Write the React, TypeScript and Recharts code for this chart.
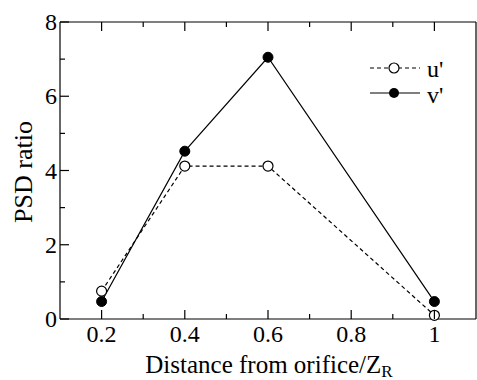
import React from 'react';
import { LineChart, Line, XAxis, YAxis, Legend } from 'recharts';

const distances = [0.2, 0.4, 0.6, 1];
const uPrime = [0.75, 4.12, 4.12, 0.1];
const vPrime = [0.47, 4.52, 7.05, 0.47];

const xMajorTicks = [0.2, 0.4, 0.6, 0.8, 1];
const xMinorTicks = [0.3, 0.5, 0.7, 0.9];
const yMajorTicks = [0, 2, 4, 6, 8];
const yMinorTicks = [1, 3, 5, 7];

const xTicks = [...xMajorTicks, ...xMinorTicks].sort((a, b) => a - b);
const yTicks = [...yMajorTicks, ...yMinorTicks].sort((a, b) => a - b);

const data = distances.map((d, i) => ({ x: d, u: uPrime[i], v: vPrime[i] }));

const FONT = "'Liberation Serif', 'Times New Roman', serif";
const TICK = { fontFamily: FONT, fontSize: 24 };
const LAB = { fontFamily: FONT, fontSize: 25 };
const MAJ = 9;
const MIN = 5;

const isMajorX = (v: number) => xMajorTicks.some((t) => Math.abs(t - v) < 1e-9);
const isMajorY = (v: number) => yMajorTicks.some((t) => Math.abs(t - v) < 1e-9);

const BottomTick = (props: any) => {
  const { x, y, payload } = props;
  const major = isMajorX(payload.value);
  return (
    <g>
      <line x1={x} x2={x} y1={y} y2={y - (major ? MAJ : MIN)} stroke="#000" strokeWidth={1.2} />
      {major && (
        <text x={x} y={y + 23} textAnchor="middle" style={TICK} fill="#000">
          {String(payload.value)}
        </text>
      )}
    </g>
  );
};

const TopTick = (props: any) => {
  const { x, y, payload } = props;
  const major = isMajorX(payload.value);
  return <line x1={x} x2={x} y1={y} y2={y + (major ? MAJ : MIN)} stroke="#000" strokeWidth={1.2} />;
};

const LeftTick = (props: any) => {
  const { x, y, payload } = props;
  const major = isMajorY(payload.value);
  return (
    <g>
      <line x1={x} x2={x + (major ? MAJ : MIN)} y1={y} y2={y} stroke="#000" strokeWidth={1.2} />
      {major && (
        <text x={x - 3} y={y + 8} textAnchor="end" style={TICK} fill="#000">
          {String(payload.value)}
        </text>
      )}
    </g>
  );
};

const RightTick = (props: any) => {
  const { x, y, payload } = props;
  const major = isMajorY(payload.value);
  return <line x1={x} x2={x - (major ? MAJ : MIN)} y1={y} y2={y} stroke="#000" strokeWidth={1.2} />;
};

const OpenDot = (props: any) => {
  const { cx, cy, index } = props;
  return <circle key={`u${index}`} cx={cx} cy={cy} r={5} fill="#fff" stroke="#000" strokeWidth={1.2} />;
};

const FilledDot = (props: any) => {
  const { cx, cy, index } = props;
  return <circle key={`v${index}`} cx={cx} cy={cy} r={5} fill="#000" stroke="#000" strokeWidth={1} />;
};

const XLabel = () => (
  <text x={269} y={373} textAnchor="middle" style={LAB} fill="#000">
    Distance from orifice/Z
    <tspan style={{ fontFamily: FONT, fontSize: 17 }} dy={4}>R</tspan>
  </text>
);

const YLabel = () => (
  <text x={32} y={172} transform="rotate(-90 32 172)" textAnchor="middle" style={{ fontFamily: FONT, fontSize: 26 }} fill="#000">
    PSD ratio
  </text>
);

const LegendContent = () => (
  <svg width={80} height={60} style={{ display: 'block', overflow: 'visible' }}>
    <line x1={5} x2={55} y1={13} y2={13} stroke="#000" strokeWidth={1.2} strokeDasharray="4 3" />
    <circle cx={29} cy={13} r={5} fill="#fff" stroke="#000" strokeWidth={1.2} />
    <text x={62} y={22} style={TICK} fill="#000">u'</text>
    <line x1={5} x2={55} y1={38} y2={38} stroke="#000" strokeWidth={1.2} />
    <circle cx={29} cy={38} r={5} fill="#000" />
    <text x={62} y={48} style={TICK} fill="#000">v'</text>
  </svg>
);

export default function App() {
  return (
    <div style={{ position: 'absolute', left: 0, top: 0, width: 477, height: 380, background: '#fff' }}>
      <LineChart width={477} height={380} data={data} margin={{ top: 21, right: 0, bottom: 21, left: 0 }}>
        <XAxis
          xAxisId="b"
          dataKey="x"
          type="number"
          domain={[0.1, 1.1]}
          ticks={xTicks}
          interval={0}
          height={40}
          tickSize={0}
          tickMargin={0}
          tickLine={false}
          axisLine={{ stroke: '#000', strokeWidth: 1.2 }}
          tick={<BottomTick />}
          label={<XLabel />}
        />
        <XAxis
          xAxisId="t"
          orientation="top"
          dataKey="x"
          type="number"
          domain={[0.1, 1.1]}
          ticks={xTicks}
          interval={0}
          height={1}
          tickSize={0}
          tickMargin={0}
          tickLine={false}
          axisLine={{ stroke: '#000', strokeWidth: 1.2 }}
          tick={<TopTick />}
        />
        <YAxis
          yAxisId="l"
          type="number"
          domain={[0, 8]}
          ticks={yTicks}
          interval={0}
          width={60}
          tickSize={0}
          tickMargin={0}
          tickLine={false}
          axisLine={{ stroke: '#000', strokeWidth: 1.2 }}
          tick={<LeftTick />}
          label={<YLabel />}
        />
        <YAxis
          yAxisId="r"
          orientation="right"
          type="number"
          domain={[0, 8]}
          ticks={yTicks}
          interval={0}
          width={1}
          tickSize={0}
          tickMargin={0}
          tickLine={false}
          axisLine={{ stroke: '#000', strokeWidth: 1.2 }}
          tick={<RightTick />}
        />
        <Legend
          layout="horizontal"
          verticalAlign="middle"
          align="center"
          content={<LegendContent />}
          wrapperStyle={{ left: 365, top: 55, width: 80, height: 60 }}
        />
        <Line
          xAxisId="b"
          yAxisId="l"
          type="linear"
          dataKey="u"
          name="u'"
          stroke="#000"
          strokeWidth={1.2}
          strokeDasharray="4 3"
          dot={<OpenDot />}
          activeDot={false}
          isAnimationActive={false}
        />
        <Line
          xAxisId="b"
          yAxisId="l"
          type="linear"
          dataKey="v"
          name="v'"
          stroke="#000"
          strokeWidth={1.2}
          dot={<FilledDot />}
          activeDot={false}
          isAnimationActive={false}
        />
      </LineChart>
    </div>
  );
}
